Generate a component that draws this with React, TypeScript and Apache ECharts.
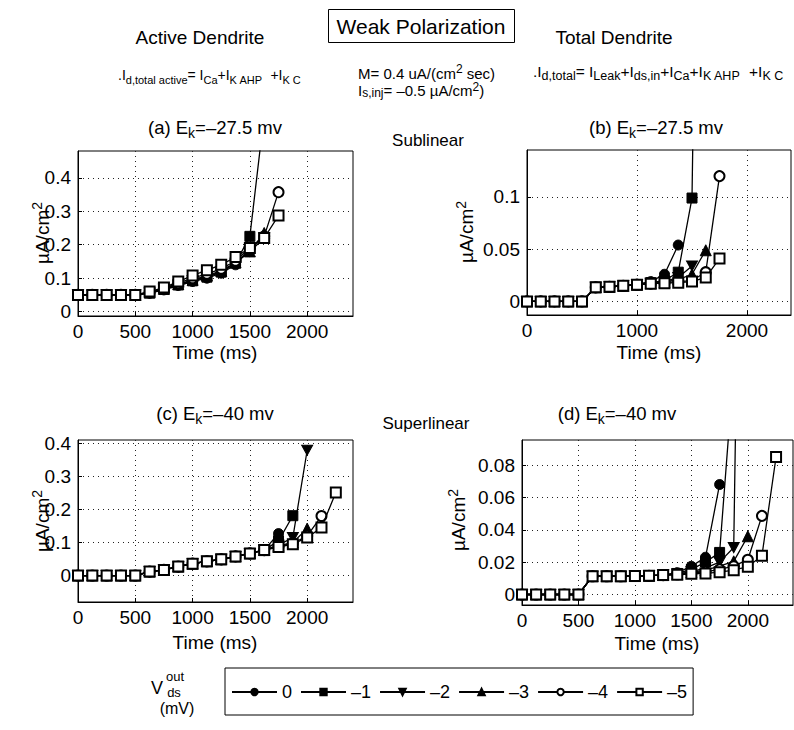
import React, { useEffect, useRef } from 'react';
import * as echarts from 'echarts';

const FONT = "'Liberation Sans', Arial, Helvetica, sans-serif";

// time samples (ms)
const TIMES = [0, 125, 250, 375, 500, 625, 750, 875, 1000, 1125, 1250, 1375, 1500, 1625, 1750, 1875, 2000, 2125, 2250];

// legend names (V_ds^out in mV)
const SERIES_NAMES = ['0', '–1', '–2', '–3', '–4', '–5'];

// (a) Active dendrite, Ek = -27.5 mV
const A_V0 = [0.05, 0.05, 0.05, 0.05, 0.05, 0.055, 0.065, 0.078, 0.09, 0.1, 0.115, 0.14, 0.19];
const A_V1 = [0.05, 0.05, 0.05, 0.05, 0.05, 0.056, 0.067, 0.08, 0.092, 0.103, 0.118, 0.145, 0.225, 0.59];
const A_V2 = [0.05, 0.05, 0.05, 0.05, 0.05, 0.056, 0.067, 0.08, 0.093, 0.105, 0.12, 0.145, 0.18, 0.22];
const A_V3 = [0.05, 0.05, 0.05, 0.05, 0.05, 0.057, 0.068, 0.082, 0.095, 0.108, 0.122, 0.147, 0.18, 0.235];
const A_V4 = [0.05, 0.05, 0.05, 0.05, 0.05, 0.058, 0.07, 0.085, 0.1, 0.113, 0.128, 0.152, 0.19, 0.225, 0.357];
const A_V5 = [0.05, 0.05, 0.05, 0.05, 0.05, 0.06, 0.072, 0.09, 0.108, 0.124, 0.14, 0.163, 0.19, 0.22, 0.287];

// (b) Total dendrite, Ek = -27.5 mV
const B_V0 = [0, 0, 0, 0, 0, 0.0135, 0.014, 0.015, 0.0165, 0.019, 0.026, 0.054];
const B_V1 = [0, 0, 0, 0, 0, 0.0135, 0.014, 0.015, 0.016, 0.018, 0.02, 0.028, 0.099, 1.0];
const B_V2 = [0, 0, 0, 0, 0, 0.0135, 0.014, 0.015, 0.016, 0.0175, 0.019, 0.023, 0.034];
const B_V3 = [0, 0, 0, 0, 0, 0.0135, 0.014, 0.015, 0.016, 0.0175, 0.0185, 0.021, 0.026, 0.049];
const B_V4 = [0, 0, 0, 0, 0, 0.0135, 0.014, 0.015, 0.016, 0.017, 0.018, 0.019, 0.02, 0.028, 0.12];
const B_V5 = [0, 0, 0, 0, 0, 0.0135, 0.014, 0.015, 0.016, 0.017, 0.0175, 0.018, 0.019, 0.023, 0.041];

// (c) Active dendrite, Ek = -40 mV
const C_V0 = [0, 0, 0, 0, 0, 0.012, 0.017, 0.027, 0.036, 0.043, 0.049, 0.058, 0.067, 0.077, 0.127];
const C_V1 = [0, 0, 0, 0, 0, 0.012, 0.017, 0.027, 0.036, 0.043, 0.049, 0.058, 0.067, 0.077, 0.105, 0.181];
const C_V2 = [0, 0, 0, 0, 0, 0.012, 0.017, 0.027, 0.036, 0.043, 0.049, 0.058, 0.067, 0.077, 0.092, 0.115, 0.379];
const C_V3 = [0, 0, 0, 0, 0, 0.012, 0.017, 0.027, 0.036, 0.043, 0.049, 0.058, 0.067, 0.077, 0.09, 0.1, 0.142];
const C_V4 = [0, 0, 0, 0, 0, 0.012, 0.017, 0.027, 0.036, 0.043, 0.049, 0.058, 0.067, 0.077, 0.088, 0.097, 0.12, 0.18];
const C_V5 = [0, 0, 0, 0, 0, 0.012, 0.017, 0.027, 0.036, 0.043, 0.049, 0.058, 0.067, 0.077, 0.086, 0.095, 0.115, 0.145, 0.251];

// (d) Total dendrite, Ek = -40 mV
const D_V0 = [0, 0, 0, 0, 0, 0.0113, 0.0113, 0.0113, 0.0114, 0.0116, 0.012, 0.0135, 0.0174, 0.023, 0.068];
const D_V1 = [0, 0, 0, 0, 0, 0.0113, 0.0113, 0.0113, 0.0114, 0.0116, 0.012, 0.013, 0.0155, 0.02, 0.026, 0.14];
const D_V2 = [0, 0, 0, 0, 0, 0.0113, 0.0113, 0.0113, 0.0114, 0.0116, 0.012, 0.0128, 0.014, 0.0165, 0.02, 0.029, 0.6];
const D_V3 = [0, 0, 0, 0, 0, 0.0113, 0.0113, 0.0113, 0.0114, 0.0116, 0.012, 0.0127, 0.0137, 0.015, 0.0175, 0.0205, 0.036];
const D_V4 = [0, 0, 0, 0, 0, 0.0113, 0.0113, 0.0113, 0.0114, 0.0116, 0.012, 0.0125, 0.0133, 0.014, 0.0155, 0.0175, 0.0215, 0.0486];
const D_V5 = [0, 0, 0, 0, 0, 0.0113, 0.0113, 0.0113, 0.0114, 0.0116, 0.012, 0.0122, 0.0128, 0.013, 0.0138, 0.015, 0.0172, 0.024, 0.085];

// tick labels
const A_YTICKS = [0, 0.1, 0.2, 0.3, 0.4];
const B_YTICKS = [0, 0.05, 0.1];
const C_YTICKS = [0, 0.1, 0.2, 0.3, 0.4];
const D_YTICKS = [0, 0.02, 0.04, 0.06, 0.08];
const X_TICKS_FINE = [0, 500, 1000, 1500, 2000];
const X_TICKS_COARSE = [0, 1000, 2000];

const SYMBOLS = [
  'circle',
  'rect',
  'path://M0,0 L10,0 L5,9 Z',
  'triangle',
  'emptyCircle',
  'emptyRect',
];

const PANELS = [
  { data: [A_V0, A_V1, A_V2, A_V3, A_V4, A_V5], yTicks: A_YTICKS, xTicks: X_TICKS_FINE, yMin: -0.013, yMax: 0.48,
    grid: { left: 78, top: 151, width: 275, height: 165 } },
  { data: [B_V0, B_V1, B_V2, B_V3, B_V4, B_V5], yTicks: B_YTICKS, xTicks: X_TICKS_COARSE, yMin: -0.013, yMax: 0.145,
    grid: { left: 527, top: 150, width: 264, height: 165 } },
  { data: [C_V0, C_V1, C_V2, C_V3, C_V4, C_V5], yTicks: C_YTICKS, xTicks: X_TICKS_FINE, yMin: -0.08, yMax: 0.41,
    grid: { left: 78, top: 440, width: 275, height: 162 } },
  { data: [D_V0, D_V1, D_V2, D_V3, D_V4, D_V5], yTicks: D_YTICKS, xTicks: X_TICKS_FINE, yMin: -0.0065, yMax: 0.0955,
    grid: { left: 522, top: 440, width: 271, height: 165 } },
];

const R = (parts: [string, string][]) => parts.map(([k, t]) => `{${k}|${t}}`).join('');

const richStyles = (base: number, small: number, shift: number, tight = false) => ({
  n: { fontSize: base, fontFamily: FONT, fill: '#000', color: '#000', ...(tight ? { lineHeight: base } : {}) },
  s: { fontSize: small, fontFamily: FONT, fill: '#000', color: '#000', padding: [shift, 0, 0, 0], ...(tight ? { lineHeight: Math.max(2, base - shift) } : {}) },
  p: { fontSize: small, fontFamily: FONT, fill: '#000', color: '#000', padding: [0, 0, shift, 0], ...(tight ? { lineHeight: Math.max(2, base - shift) } : {}) },
});

const txt = (x: number, y: number, text: string, size: number, align = 'center', extra: any = {}) => ({
  type: 'text',
  x,
  y,
  ...extra,
  style: { text, fontSize: size, fontFamily: FONT, fill: '#000', align, verticalAlign: 'middle' },
});

const rtxt = (x: number, y: number, text: string, base: number, small: number, shift: number, align = 'left', extra: any = {}, tight = false) => ({
  type: 'text',
  x,
  y,
  ...extra,
  style: { text, rich: richStyles(base, small, shift, tight), fontSize: base, fontFamily: FONT, fill: '#000', align, verticalAlign: 'middle' },
});

const fmt = (v: number) => String(Math.round(v * 10000) / 10000);

function buildOption() {
  const grids: any[] = [];
  const xAxes: any[] = [];
  const yAxes: any[] = [];
  const series: any[] = [];
  const splitStyle = { show: true, lineStyle: { color: '#222', width: 1, type: [1, 4] } };

  PANELS.forEach((p, pi) => {
    grids.push({ ...p.grid, show: true, borderColor: '#000', borderWidth: 1, backgroundColor: 'transparent', containLabel: false, outerBoundsMode: 'none' });
    xAxes.push({
      type: 'value', gridIndex: pi, min: 0, max: 2400,
      axisLine: { show: true, onZero: false, lineStyle: { color: '#000', width: 1 } },
      axisTick: { show: true, inside: true, length: 4, lineStyle: { color: '#000' }, customValues: p.xTicks },
      axisLabel: { show: true, color: '#000', fontSize: 19, fontFamily: FONT, margin: 6, customValues: p.xTicks, formatter: fmt },
      splitLine: splitStyle,
    });
    yAxes.push({
      type: 'value', gridIndex: pi, min: p.yMin, max: p.yMax,
      axisLine: { show: true, onZero: false, lineStyle: { color: '#000', width: 1 } },
      axisTick: { show: true, inside: true, length: 4, lineStyle: { color: '#000' }, customValues: p.yTicks },
      axisLabel: { show: true, color: '#000', fontSize: 19, fontFamily: FONT, margin: 7, customValues: p.yTicks, formatter: fmt },
      splitLine: splitStyle,
    });
    p.data.forEach((vals, si) => {
      series.push({
        type: 'line',
        name: SERIES_NAMES[si],
        xAxisIndex: pi,
        yAxisIndex: pi,
        data: vals.map((v, k) => [TIMES[k], v]),
        symbol: SYMBOLS[si],
        symbolSize: si === 2 ? [11, 10] : si === 3 ? 11 : 10,
        showSymbol: true,
        clip: true,
        lineStyle: { color: '#000', width: 1.3 },
        itemStyle: { color: '#000', borderColor: '#000', borderWidth: 1 },
        emphasis: { disabled: true },
        z: 2 + si,
      });
    });
  });

  const graphic: any[] = [
    // header
    { type: 'rect', shape: { x: 328.5, y: 9.5, width: 186, height: 33 }, style: { fill: 'none', stroke: '#000', lineWidth: 1 } },
    txt(421, 26, 'Weak Polarization', 21),
    txt(200, 37, 'Active Dendrite', 19),
    txt(614, 37, 'Total Dendrite', 19),
    rtxt(118, 75, R([['n', '.I'], ['s', 'd,total active'], ['n', '= I'], ['s', 'Ca'], ['n', '+I'], ['s', 'K AHP'], ['n', '  +I'], ['s', 'K C']]), 14, 11, 10),
    rtxt(358, 73, R([['n', 'M= 0.4 uA/(cm'], ['p', '2'], ['n', ' sec)']]), 15, 12, 8, 'left', {}, true),
    rtxt(358, 90, R([['n', 'I'], ['s', 's,inj'], ['n', '= –0.5 µA/cm'], ['p', '2'], ['n', ')']]), 15, 12, 6, 'left', {}, true),
    rtxt(533, 71, R([['n', '.I'], ['s', 'd,total'], ['n', '= I'], ['s', 'Leak'], ['n', '+I'], ['s', 'ds,in'], ['n', '+I'], ['s', 'Ca'], ['n', '+I'], ['s', 'K AHP'], ['n', '  +I'], ['s', 'K C']]), 15.5, 12.5, 10),
    // panel titles
    rtxt(215, 127, R([['n', '(a) E'], ['s', 'k'], ['n', '=–27.5 mv']]), 18.5, 14, 11, 'center'),
    rtxt(656, 127, R([['n', '(b) E'], ['s', 'k'], ['n', '=–27.5 mv']]), 18.5, 14, 11, 'center'),
    rtxt(215, 413, R([['n', '(c) E'], ['s', 'k'], ['n', '=–40 mv']]), 18.5, 14, 11, 'center'),
    rtxt(617, 413, R([['n', '(d) E'], ['s', 'k'], ['n', '=–40 mv']]), 18.5, 14, 11, 'center'),
    txt(428, 140, 'Sublinear', 17),
    txt(426, 423, 'Superlinear', 17),
    // axis titles
    txt(215, 352, 'Time (ms)', 19),
    txt(659, 352, 'Time (ms)', 19),
    txt(215, 642, 'Time (ms)', 19),
    txt(657, 643, 'Time (ms)', 19),
    rtxt(42, 233, R([['n', 'µA/cm'], ['p', '2']]), 19, 14, 11, 'center', { rotation: Math.PI / 2 }),
    rtxt(466, 232, R([['n', 'µA/cm'], ['p', '2']]), 19, 14, 11, 'center', { rotation: Math.PI / 2 }),
    rtxt(42, 521, R([['n', 'µA/cm'], ['p', '2']]), 19, 14, 11, 'center', { rotation: Math.PI / 2 }),
    rtxt(458, 520, R([['n', 'µA/cm'], ['p', '2']]), 19, 14, 11, 'center', { rotation: Math.PI / 2 }),
    // legend side label
    txt(157, 688, 'V', 18),
    txt(175, 676, 'out', 13),
    txt(174, 692, 'ds', 13),
    txt(177, 708, '(mV)', 16),
  ];

  return {
    animation: false,
    backgroundColor: '#fff',
    grid: grids,
    xAxis: xAxes,
    yAxis: yAxes,
    series,
    legend: {
      show: true,
      data: SERIES_NAMES,
      left: 225,
      top: 668,
      orient: 'horizontal',
      padding: [15, 6, 14, 6],
      itemWidth: 45,
      itemHeight: 8,
      itemGap: 8,
      borderColor: '#000',
      borderWidth: 1,
      selectedMode: false,
      textStyle: { color: '#000', fontSize: 18, fontFamily: FONT },
    },
    graphic,
  };
}

export default function App() {
  const ref = useRef<HTMLDivElement>(null);
  useEffect(() => {
    if (!ref.current) return;
    const chart = echarts.init(ref.current, null, { renderer: 'svg' });
    chart.setOption(buildOption() as any);
    return () => chart.dispose();
  }, []);
  return <div ref={ref} style={{ position: 'fixed', left: 0, top: 0, width: 794, height: 730 }} />;
}
